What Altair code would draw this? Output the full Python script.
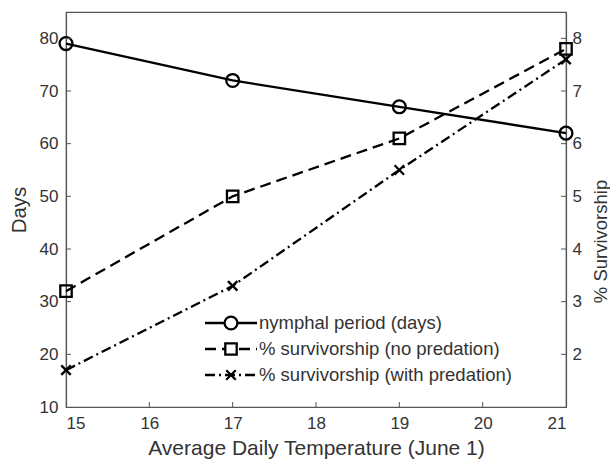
import altair as alt
import pandas as pd

# ---- data ----
temps = [15, 17, 19, 21]
nymphal_days = [79, 72, 67, 62]
surv_no_pred = [3.2, 5.0, 6.1, 7.8]
surv_pred = [1.7, 3.3, 5.5, 7.6]
series_names = ["nymphal period (days)",
                "% survivorship (no predation)",
                "% survivorship (with predation)"]
x_ticks = [15, 16, 17, 18, 19, 20, 21]
days_ticks = [10, 20, 30, 40, 50, 60, 70, 80]
surv_ticks = [2, 3, 4, 5, 6, 7, 8]

# ---- style ----
W, H = 500, 395
FONT = "Liberation Sans"
TXT = "#333333"
AX = "#555555"
LW = 2.3
DASH = [11, 6]
DASHDOT = [10, 4, 2, 4]
X_SHAPE = "M-1,-1L1,1M-1,1L1,-1"

df_days = pd.DataFrame({"temp": temps, "days": nymphal_days})
df_np = pd.DataFrame({"temp": temps, "surv": surv_no_pred})
df_p = pd.DataFrame({"temp": temps, "surv": surv_pred})

x_enc = alt.X("temp:Q", scale=alt.Scale(domain=[15, 21], nice=False),
              axis=alt.Axis(values=x_ticks, title="Average Daily Temperature (June 1)",
                            labelPadding=8, titlePadding=6, titleFontSize=21))

left_axis = alt.Axis(values=days_ticks, title="Days", orient="left",
                     labelPadding=8, titlePadding=10, titleFontSize=20.5)
right_axis = alt.Axis(values=surv_ticks, title="% Survivorship", orient="right",
                      labelPadding=6, titlePadding=10, titleAngle=270,
                      titleBaseline="top", titleFontSize=18.5, titleY=229)

y_days = alt.Y("days:Q", scale=alt.Scale(domain=[10, 85], nice=False, zero=False), axis=left_axis)
y_surv = alt.Y("surv:Q", scale=alt.Scale(domain=[1, 8.5], nice=False, zero=False), axis=right_axis)

base_days = alt.Chart(df_days)
days_line = base_days.mark_line(color="black", strokeWidth=LW).encode(x=x_enc, y=y_days)
days_pts = base_days.mark_point(shape="circle", size=165, filled=False, color="black",
                                strokeWidth=LW, opacity=1).encode(x=x_enc, y=y_days)

# inward tick marks
lt = pd.DataFrame({"days": days_ticks[1:]})
left_ticks = alt.Chart(lt).mark_rule(color=AX, strokeWidth=1).encode(
    y=y_days, x=alt.value(0), x2=alt.value(5))
xt = pd.DataFrame({"temp": x_ticks[1:-1]})
x_tick_rules = alt.Chart(xt).mark_rule(color=AX, strokeWidth=1).encode(
    x=x_enc, y=alt.value(H), y2=alt.value(H - 5))

left_layer = alt.layer(days_line, days_pts, left_ticks, x_tick_rules)

np_line = alt.Chart(df_np).mark_line(color="black", strokeWidth=LW, strokeDash=DASH).encode(x=x_enc, y=y_surv)
np_pts = alt.Chart(df_np).mark_point(shape="square", size=130, filled=False, color="black",
                                     strokeWidth=LW, opacity=1).encode(x=x_enc, y=y_surv)
p_line = alt.Chart(df_p).mark_line(color="black", strokeWidth=LW, strokeDash=DASHDOT).encode(x=x_enc, y=y_surv)
p_pts = alt.Chart(df_p).mark_point(shape=X_SHAPE, size=90, filled=False, color="black",
                                   strokeWidth=LW, opacity=1).encode(x=x_enc, y=y_surv)
rt = pd.DataFrame({"surv": surv_ticks})
right_ticks = alt.Chart(rt).mark_rule(color=AX, strokeWidth=1).encode(
    y=y_surv, x=alt.value(W - 5), x2=alt.value(W))

right_layer = alt.layer(np_line, p_line, np_pts, p_pts, right_ticks)

# ---- manual legend ----
leg_rows = [311, 337, 363]
leg_dash = [[1, 0], DASH, DASHDOT]
leg_shape = ["circle", "square", X_SHAPE]
leg_size = [165, 130, 90]
legend_parts = []
for name, yy, dsh, shp, sz in zip(series_names, leg_rows, leg_dash, leg_shape, leg_size):
    d = pd.DataFrame({"label": [name]})
    legend_parts.append(alt.Chart(d).mark_rule(color="black", strokeWidth=LW, strokeDash=dsh).encode(
        x=alt.value(139), x2=alt.value(191), y=alt.value(yy)))
    legend_parts.append(alt.Chart(d).mark_point(shape=shp, size=sz, filled=False, color="black",
                                                strokeWidth=LW, opacity=1, fill="white").encode(
        x=alt.value(165), y=alt.value(yy)))
    legend_parts.append(alt.Chart(d).mark_text(align="left", baseline="middle", font=FONT,
                                               fontSize=18.5, color=TXT).encode(
        x=alt.value(193), y=alt.value(yy), text="label:N"))

chart = alt.layer(left_layer, right_layer, *legend_parts).resolve_scale(y="independent").properties(
    width=W, height=H,
    autosize=alt.AutoSizeParams(type="none"),
    padding={"left": 66, "top": 12, "right": 44, "bottom": 59},
    background="white",
).configure_view(stroke=AX, strokeWidth=1.2).configure_axis(
    labelFont=FONT, labelFontSize=17, labelColor=TXT,
    titleFont=FONT, titleColor=TXT, titleFontWeight="normal",
    domainColor=AX, domainWidth=1.2, tickSize=0, grid=False,
)

chart.save("out.html", embed_options={"renderer": "svg", "actions": False})
